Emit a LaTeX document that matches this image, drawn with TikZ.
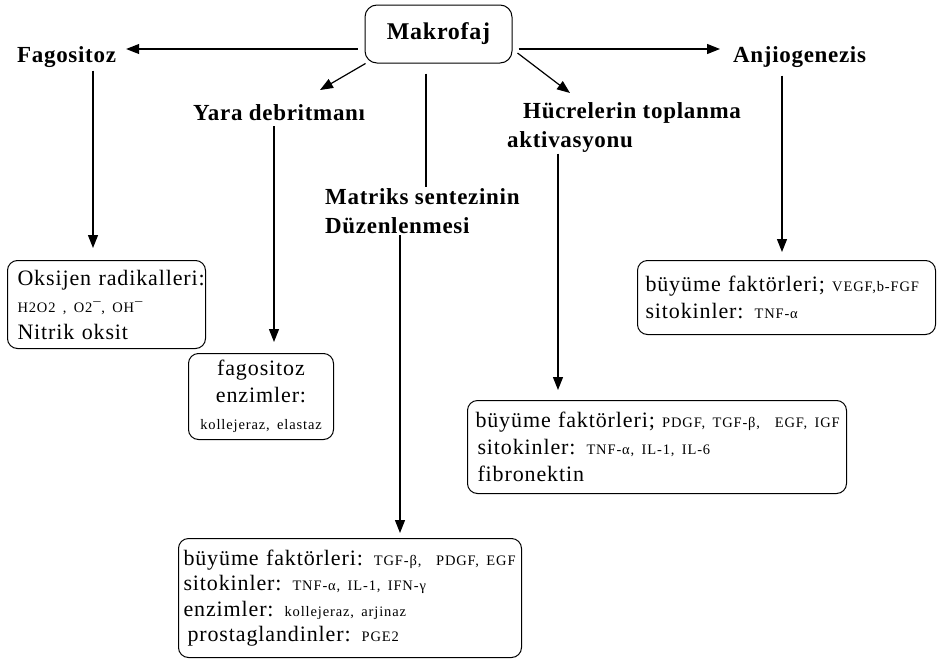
\documentclass[tikz,border=0pt]{standalone}
\usepackage{fontspec}
\setmainfont{Liberation Serif}[LetterSpace=4]
\newfontfamily\hdfont{Liberation Serif}[LetterSpace=3]
\newfontfamily\smfont{Liberation Serif}[LetterSpace=6]
\usetikzlibrary{arrows.meta,calc}
\newcommand\sm[1]{{\smfont\fontsize{14.5}{16}\selectfont #1}}
\tikzset{
  hd/.style={font=\hdfont\bfseries\fontsize{23}{29}\selectfont, inner sep=0pt, align=left},
  boxnode/.style={draw, rounded corners=10pt, line width=1pt, anchor=north west,
    inner ysep=0pt, font=\fontsize{22}{27}\selectfont},
  arr/.style={line width=1.2pt, -{Triangle[length=13pt,width=10pt]}},
  ln/.style={line width=1.2pt}
}
\begin{document}
\begin{tikzpicture}[x=1pt,y=-1pt]
\useasboundingbox (0,0) rectangle (937,659);
% main node
\node[draw, rounded corners=12pt, line width=1pt, minimum width=147, minimum height=58,
  font=\hdfont\bfseries\fontsize{24}{29}\selectfont, inner sep=0pt] (mak) at (438.5,34) {Makrofaj};
% headings
\node[hd, anchor=west] (fag) at (17,57) {Fagositoz};
\node[hd, anchor=west] (yara) at (193,113) {Yara debritmanı};
\node[hd, anchor=west] (hucre) at (507,127.5) {\hspace{16pt}Hücrelerin toplanma\\aktivasyonu};
\node[hd, anchor=west] (mat) at (325,211.5) {Matriks sentezinin\\Düzenlenmesi};
\node[hd, anchor=west] (anj) at (733,57) {Anjiogenezis};
% boxes
\node[boxnode, minimum width=198, minimum height=88, inner xsep=10pt, text width=178, align=left] (oks) at (7,260)
  {\mbox{Oksijen radikalleri:}\\\mbox{\sm{H2O2 , O2¯, OH¯}}\\\mbox{Nitrik oksit}};
\node[boxnode, minimum width=145, minimum height=86, inner xsep=2pt, text width=141, align=center] (enz) at (188,353)
  {\mbox{fagositoz}\\\mbox{enzimler:}\\\mbox{\sm{kollejeraz, elastaz}}};
\node[boxnode, minimum width=298, minimum height=74, inner xsep=8pt, text width=282, align=left] (anjb) at (637,260)
  {\mbox{büyüme faktörleri; \sm{VEGF,b-FGF}}\\\mbox{sitokinler: \sm{TNF-α}}};
\node[boxnode, minimum width=379, minimum height=93, inner xsep=8pt, text width=363, align=left] (hucb) at (467,400)
  {\mbox{büyüme faktörleri; \sm{PDGF, TGF-β, \ EGF, IGF}}\\\mbox{\hspace{2pt}sitokinler: \sm{TNF-α, IL-1, IL-6}}\\\mbox{\hspace{2pt}fibronektin}};
\node[boxnode, minimum width=343, minimum height=119, inner xsep=5pt, text width=333, align=left,
  font=\fontsize{22}{25.5}\selectfont] (matb) at (178,538)
  {\mbox{büyüme faktörleri: \sm{TGF-β, \ PDGF, EGF}}\\\mbox{sitokinler: \sm{TNF-α, IL-1, IFN-γ}}\\\mbox{enzimler: \sm{kollejeraz, arjinaz}}\\\mbox{\hspace{4pt}prostaglandinler: \sm{PGE2}}};
% x positions of the vertical connectors
\coordinate (fx) at (93,0);
\coordinate (yx) at (274,0);
\coordinate (mx) at (426,0);
\coordinate (dx) at (400,0);
\coordinate (hx) at (558,0);
\coordinate (ax) at (782,0);
% connectors from Makrofaj
\draw[arr] ([xshift=-7pt,yshift=-15pt]mak.west) -- ([xshift=10pt,yshift=-15pt]mak.west -| fag.east);
\draw[arr] ([xshift=6pt,yshift=-15pt]mak.east) -- ([xshift=-13pt,yshift=-15pt]mak.east -| anj.west);
\coordinate (ytip) at (320,90);
\coordinate (htip) at (570,93);
\draw[arr] ([xshift=1pt]mak.south west) -- (ytip);
\draw[arr] ([xshift=5pt,yshift=-19pt]mak.east) -- (htip);
\draw[ln] ([yshift=-10pt]mak.south -| mx) -- ([yshift=2pt]mat.north -| mx);
% vertical connectors to boxes
\draw[arr] ([yshift=-3pt]fag.south -| fx) -- ([yshift=12pt]oks.north -| fx);
\draw[arr] ([yshift=-5pt]yara.south -| yx) -- ([yshift=11pt]enz.north -| yx);
\draw[arr] ([yshift=-1pt]mat.south -| dx) -- ([yshift=5pt]matb.north -| dx);
\draw[arr] ([yshift=-1pt]hucre.south -| hx) -- ([yshift=10pt]hucb.north -| hx);
\draw[arr] ([yshift=-8pt]anj.south -| ax) -- ([yshift=8pt]anjb.north -| ax);
\end{tikzpicture}
\end{document}
